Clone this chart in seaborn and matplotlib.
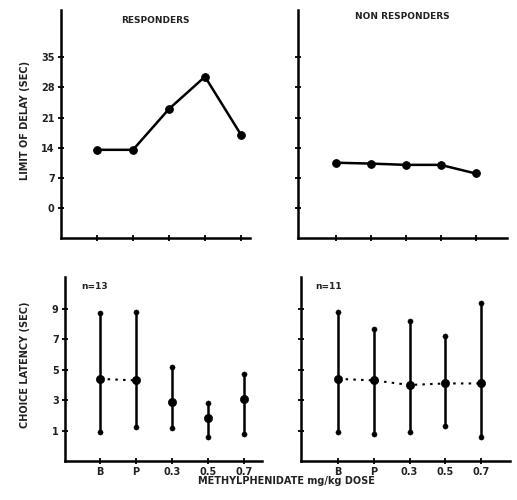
import numpy as np
import pandas as pd
import matplotlib
matplotlib.use("Agg")
import matplotlib.pyplot as plt
import seaborn as sns

# ---- data ----
doses = ["B", "P", "0.3", "0.5", "0.7"]
resp_delay = [13.5, 13.5, 23.0, 30.5, 17.0]
nonresp_delay = [10.5, 10.3, 10.0, 10.0, 8.0]

resp_lat_mean = [4.4, 4.3, 2.9, 1.85, 3.1]
resp_lat_low = [0.9, 1.25, 1.2, 0.6, 0.75]
resp_lat_high = [8.7, 8.8, 5.2, 2.8, 4.7]

non_lat_mean = [4.4, 4.3, 4.0, 4.1, 4.1]
non_lat_low = [0.9, 0.75, 0.9, 1.3, 0.6]
non_lat_high = [8.8, 7.7, 8.2, 7.2, 9.4]

delay_ticks = [0, 7, 14, 21, 28, 35]
latency_ticks = [1, 3, 5, 7, 9]

sns.set_theme(style="ticks")
plt.rcParams["font.family"] = ["DejaVu Sans"]

fig = plt.figure(figsize=(5.17, 5.0), dpi=100)
W, H = 517, 500

def add_ax(x0, x1, y0, y1):
    return fig.add_axes([x0 / W, 1 - y1 / H, (x1 - x0) / W, (y1 - y0) / H])

ax_tl = add_ax(61, 250, 10, 238)
ax_tr = add_ax(298, 507, 10, 238)
ax_bl = add_ax(65, 262, 277, 461)
ax_br = add_ax(301, 510, 277, 461)

pos = np.arange(len(doses))

def style(ax, yticks, ylim, xlim, show_ylabels, show_xlabels):
    for s in ["top", "right"]:
        ax.spines[s].set_visible(False)
    for s in ["left", "bottom"]:
        ax.spines[s].set_color("black")
        ax.spines[s].set_linewidth(1.8)
    ax.set_xlim(*xlim)
    ax.set_ylim(*ylim)
    ax.set_xticks(pos)
    ax.set_yticks(yticks)
    ax.tick_params(direction="inout", length=5, width=1.3, color="black",
                   labelsize=7, labelcolor="#222222", pad=2)
    if show_xlabels:
        ax.set_xticklabels(doses, fontweight="bold")
    else:
        ax.set_xticklabels([])
    if show_ylabels:
        ax.set_yticklabels([str(t) for t in yticks], fontweight="bold")
    else:
        ax.set_yticklabels([])
    ax.set_xlabel("")
    ax.set_ylabel("")
    ax.grid(False)

# top panels: line plots
df_r = pd.DataFrame({"x": pos, "y": resp_delay})
df_n = pd.DataFrame({"x": pos, "y": nonresp_delay})
sns.lineplot(data=df_r, x="x", y="y", ax=ax_tl, color="black", lw=1.8,
             marker="o", markersize=5.5, markeredgecolor="black")
sns.lineplot(data=df_n, x="x", y="y", ax=ax_tr, color="black", lw=1.8,
             marker="o", markersize=5.5, markeredgecolor="black")
style(ax_tl, delay_ticks, (-7, 46), (-1, 4.25), True, False)
style(ax_tr, delay_ticks, (-7, 46), (-1.08, 4.9), False, False)
ax_tl.text(0.5, 0.955, "RESPONDERS", transform=ax_tl.transAxes, ha="center",
           va="center", fontsize=6.5, fontweight="bold", color="#222222")
ax_tr.text(0.5, 0.97, "NON RESPONDERS", transform=ax_tr.transAxes, ha="center",
           va="center", fontsize=6.5, fontweight="bold", color="#222222")

# bottom panels: means with ranges
def latency(ax, mean, low, high, dotted_idx):
    ax.vlines(pos, low, high, color="black", lw=1.8)
    sns.scatterplot(x=pos, y=low, ax=ax, color="black", s=14, edgecolor="black")
    sns.scatterplot(x=pos, y=high, ax=ax, color="black", s=14, edgecolor="black")
    sns.scatterplot(x=pos, y=mean, ax=ax, color="black", s=35, edgecolor="black")
    m = np.array(mean)
    sns.lineplot(x=pos[dotted_idx], y=m[dotted_idx], ax=ax, color="black",
                 lw=1.5, linestyle=(0, (1.2, 2.5)))

latency(ax_bl, resp_lat_mean, resp_lat_low, resp_lat_high, [0, 1])
latency(ax_br, non_lat_mean, non_lat_low, non_lat_high, [0, 1, 2, 3, 4])
style(ax_bl, latency_ticks, (-1, 11.1), (-0.97, 4.5), True, True)
style(ax_br, latency_ticks, (-1, 11.1), (-1.03, 4.8), False, True)
ax_bl.text(0.08, 0.95, "n=13", transform=ax_bl.transAxes, ha="left",
           va="center", fontsize=6.5, fontweight="bold", color="#222222")
ax_br.text(0.07, 0.95, "n=11", transform=ax_br.transAxes, ha="left",
           va="center", fontsize=6.5, fontweight="bold", color="#222222")

fig.text(25 / W, 1 - 120 / H, "LIMIT OF DELAY (SEC)", rotation=90,
         ha="center", va="center", fontsize=7, fontweight="bold", color="#222222")
fig.text(25 / W, 1 - 365 / H, "CHOICE LATENCY (SEC)", rotation=90,
         ha="center", va="center", fontsize=7, fontweight="bold", color="#222222")
fig.text(286 / W, 1 - 481 / H, "METHYLPHENIDATE mg/kg DOSE",
         ha="center", va="center", fontsize=7, fontweight="bold", color="#222222")

fig.savefig("out.png", dpi=100)
